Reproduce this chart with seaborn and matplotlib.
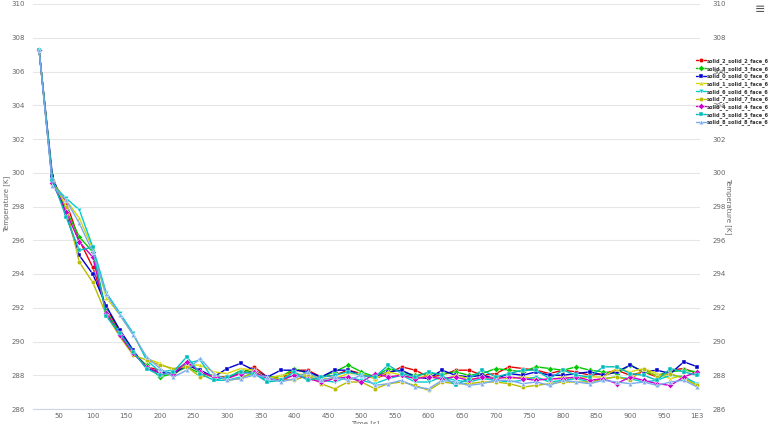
import matplotlib
matplotlib.use("Agg")
import matplotlib.pyplot as plt
import seaborn as sns
import pandas as pd

times = list(range(20, 1001, 20))

series_names = ["solid_2_solid_2_face_6", "solid_3_solid_3_face_6", "solid_0_solid_0_face_6",
                "solid_1_solid_1_face_6", "solid_6_solid_6_face_6", "solid_7_solid_7_face_6",
                "solid_4_solid_4_face_6", "solid_5_solid_5_face_6", "solid_8_solid_8_face_6"]

solid_2 = [307.3, 299.5, 298.3, 296.0, 294.4, 292.0, 290.6, 289.4, 288.5, 288.3,
           288.0, 288.7, 288.2, 287.9, 287.9, 288.1, 288.5, 287.9, 287.8, 288.3,
           288.3, 287.9, 288.0, 288.3, 288.1, 287.8, 288.1, 288.5, 288.3, 287.9,
           288.0, 288.3, 288.3, 288.0, 288.1, 288.5, 288.4, 288.3, 288.1, 288.3,
           288.2, 288.0, 288.1, 288.3, 288.0, 288.2, 287.9, 288.3, 288.4, 288.1]
solid_3 = [307.3, 299.6, 297.8, 296.2, 295.3, 291.8, 290.5, 289.3, 288.6, 287.9,
           288.1, 288.5, 288.1, 288.0, 287.8, 288.3, 288.2, 287.9, 287.9, 288.4,
           288.1, 287.9, 288.2, 288.6, 288.2, 287.9, 288.4, 288.2, 288.0, 288.1,
           288.1, 288.2, 288.0, 288.1, 288.4, 288.3, 288.2, 288.5, 288.4, 288.3,
           288.5, 288.3, 288.2, 288.1, 288.6, 288.2, 288.0, 288.2, 288.3, 288.2]
solid_0 = [307.3, 299.8, 297.6, 295.1, 294.0, 292.1, 290.7, 289.5, 288.4, 288.2,
           288.1, 288.6, 288.3, 287.9, 288.4, 288.7, 288.3, 287.9, 288.3, 288.3,
           288.2, 287.9, 288.3, 288.3, 288.0, 287.9, 288.2, 288.3, 287.9, 287.8,
           288.3, 288.0, 287.9, 288.0, 287.8, 288.1, 288.0, 288.2, 288.0, 288.0,
           288.1, 288.2, 288.0, 288.2, 288.6, 288.2, 288.3, 288.1, 288.8, 288.5]
solid_1 = [307.3, 299.4, 298.4, 297.3, 295.5, 292.6, 291.6, 290.4, 289.0, 288.7,
           288.3, 288.6, 288.6, 288.2, 288.1, 288.4, 288.3, 287.8, 288.0, 288.1,
           288.0, 287.8, 287.8, 288.1, 288.1, 287.8, 288.2, 288.0, 287.8, 288.0,
           287.7, 288.0, 287.8, 287.8, 287.9, 287.8, 287.9, 287.8, 287.7, 287.9,
           287.8, 287.9, 287.9, 288.4, 288.2, 288.4, 288.1, 287.8, 288.0, 287.3]
solid_6 = [307.3, 299.3, 298.5, 297.8, 295.6, 292.9, 291.7, 290.5, 288.9, 288.2,
           288.3, 288.7, 288.9, 287.7, 287.7, 287.9, 288.1, 287.7, 287.8, 288.0,
           287.9, 287.7, 287.6, 287.9, 287.7, 287.5, 287.8, 288.0, 287.6, 287.6,
           287.9, 287.7, 287.6, 287.8, 287.7, 287.6, 287.7, 287.9, 287.6, 287.7,
           287.8, 287.6, 287.8, 287.9, 287.8, 287.6, 287.7, 288.0, 287.9, 287.5]
solid_7 = [307.3, 299.5, 298.0, 294.7, 293.5, 291.6, 290.3, 289.2, 288.9, 288.6,
           288.4, 288.5, 287.9, 288.0, 287.7, 287.8, 288.2, 287.8, 287.8, 287.7,
           288.0, 287.5, 287.2, 287.6, 287.6, 287.2, 287.5, 287.6, 287.4, 287.1,
           287.6, 287.5, 287.5, 287.6, 287.6, 287.5, 287.3, 287.4, 287.5, 287.6,
           287.6, 287.6, 287.8, 287.9, 287.7, 288.4, 287.9, 288.1, 287.8, 287.4]
solid_4 = [307.3, 299.4, 297.7, 295.9, 295.0, 291.7, 290.4, 289.3, 288.5, 288.1,
           288.1, 288.8, 288.2, 287.9, 287.8, 288.1, 288.2, 287.8, 287.7, 288.0,
           287.8, 287.6, 287.8, 287.9, 287.6, 288.1, 287.9, 288.0, 287.8, 287.9,
           287.8, 287.9, 287.7, 287.9, 287.8, 287.9, 287.8, 287.7, 287.8, 287.8,
           287.9, 287.7, 287.8, 287.5, 287.9, 287.7, 287.5, 287.4, 287.9, 288.2]
solid_5 = [307.3, 299.6, 297.4, 295.4, 295.6, 291.5, 290.5, 289.4, 288.4, 288.0,
           288.2, 289.1, 288.1, 287.7, 287.9, 288.2, 288.1, 287.6, 287.7, 288.2,
           287.7, 287.9, 288.0, 288.2, 288.0, 287.9, 288.6, 288.1, 287.9, 288.2,
           288.0, 287.4, 287.8, 288.3, 287.9, 288.1, 288.3, 288.3, 287.8, 288.3,
           288.0, 287.9, 288.5, 288.5, 288.1, 288.0, 287.7, 288.4, 288.2, 288.0]
solid_8 = [307.3, 299.2, 298.4, 297.0, 295.3, 292.8, 291.6, 290.4, 289.1, 288.4,
           287.9, 288.3, 289.0, 288.1, 287.7, 287.8, 288.0, 287.9, 287.6, 287.8,
           288.2, 287.7, 287.9, 287.7, 288.0, 287.4, 287.5, 287.7, 287.3, 287.2,
           287.7, 287.6, 287.4, 287.5, 287.7, 287.7, 287.5, 287.6, 287.4, 287.7,
           287.6, 287.5, 287.7, 287.6, 287.5, 287.6, 287.4, 287.6, 287.7, 287.3]

all_values = [solid_2, solid_3, solid_0, solid_1, solid_6, solid_7, solid_4, solid_5, solid_8]
colors = ["#E60000", "#00C800", "#0000CC", "#D6D600", "#00CCCC", "#BBBB00", "#CC00CC", "#00BBBB", "#77AAEE"]
markers = ["o", "D", "s", "^", "v", "o", "D", "s", "^"]

x_ticks = list(range(50, 1001, 50))
x_tick_labels = [str(v) for v in x_ticks[:-1]] + ["1E3"]
y_ticks = list(range(286, 311, 2))

rows = []
for name, vals in zip(series_names, all_values):
    for t, v in zip(times, vals):
        rows.append({"Time": t, "Temperature": v, "series": name})
df = pd.DataFrame(rows)

sns.set_theme(style="white")
plt.rcParams["font.family"] = ["DejaVu Sans"]

fig = plt.figure(figsize=(7.68, 4.24), dpi=100)
ax = fig.add_axes([33 / 768, 1 - 409 / 424, (700 - 33) / 768, (409 - 4) / 424])

sns.lineplot(data=df, x="Time", y="Temperature", hue="series", style="series",
             hue_order=series_names, style_order=series_names,
             palette=dict(zip(series_names, colors)),
             markers=dict(zip(series_names, markers)), dashes=False,
             linewidth=1.0, markersize=3.2, markeredgewidth=0.3, ax=ax, legend=True)

ax.set_xlim(11, 1004)
ax.set_ylim(286, 310)
ax.set_yticks(y_ticks)
ax.set_xticks(x_ticks)
ax.set_xticklabels(x_tick_labels)
ax.grid(axis="y", color="#e6e6e6", linewidth=0.8)
ax.set_axisbelow(True)
for s in ["top", "right", "left"]:
    ax.spines[s].set_visible(False)
ax.spines["bottom"].set_color("#ccd6eb")
ax.spines["bottom"].set_linewidth(0.8)
ax.tick_params(axis="x", colors="#ccd6eb", length=2, width=0.6, labelsize=5, labelcolor="#666666", pad=1)
ax.tick_params(axis="y", length=0, labelsize=5, labelcolor="#666666", pad=6)
ax.set_xlabel("")
ax.set_ylabel("")

ax2 = ax.twinx()
ax2.set_ylim(286, 310)
ax2.set_yticks(y_ticks)
ax2.tick_params(axis="y", length=0, labelsize=5, labelcolor="#666666", pad=9)
for s in ["top", "right", "left", "bottom"]:
    ax2.spines[s].set_visible(False)

fig.text(7 / 768, 1 - 204 / 424, "Temperature [K]", rotation=90, ha="center", va="center",
         fontsize=5, color="#666666")
fig.text(728 / 768, 1 - 206 / 424, "Temperature [K]", rotation=270, ha="center", va="center",
         fontsize=5, color="#666666")
fig.text(365 / 768, 1 - 420 / 424, "Time [s]", ha="center", va="top", fontsize=5, color="#666666")
fig.text(760 / 768, 1 - 9 / 424, "\u2261", ha="center", va="center", fontsize=9, color="#555555")

handles, labels = ax.get_legend_handles_labels()
leg = ax.legend(handles, labels, loc="upper left", bbox_to_anchor=(696 / 768, 1 - 58 / 424),
                bbox_transform=fig.transFigure, frameon=False,
                prop={"size": 3.6, "weight": "bold", "family": "Liberation Sans Narrow"},
                handlelength=1.9, handletextpad=0.3, labelspacing=0.36, borderaxespad=0, borderpad=0)
for txt in leg.get_texts():
    txt.set_color("#333333")

fig.savefig("out.png", dpi=100)
